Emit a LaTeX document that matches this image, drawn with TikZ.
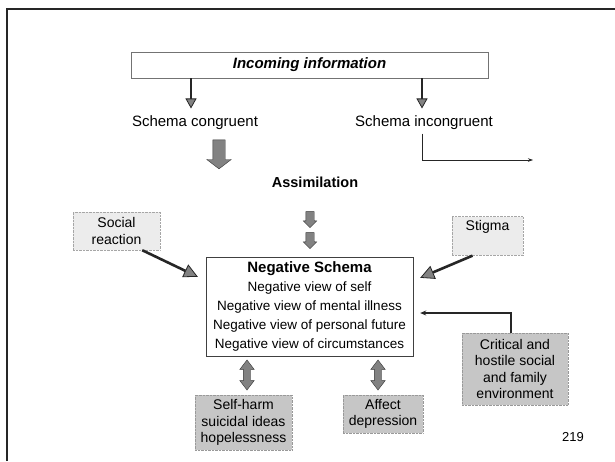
\documentclass[tikz,border=0pt]{standalone}
\usepackage{fontspec}
\setmainfont{Liberation Sans}
\usepackage{tikz}
\usetikzlibrary{arrows.meta, shapes.arrows, positioning}
\definecolor{specklegray}{RGB}{198,198,198}
\definecolor{palegray}{RGB}{236,236,236}
\definecolor{arrowgray}{RGB}{130,130,130}

\begin{document}
\begin{tikzpicture}[
    x=1pt, y=-1pt,
    frameline/.style={line width=1.6pt, color=black!85},
    infobox/.style={rectangle, draw=black!55, fill=white, minimum width=357pt,
                    minimum height=26pt, font=\fontsize{15}{18}\selectfont\bfseries\itshape},
    plaintext/.style={font=\fontsize{15}{18}\selectfont},
    schemabox/.style={rectangle, draw=black!75, fill=white, align=center,
                      minimum width=207pt, minimum height=99pt,
                      font=\fontsize{13.5}{19}\selectfont},
    lightbox/.style={rectangle, draw=black!35, densely dotted, fill=palegray,
                     align=center, font=\fontsize{14}{17}\selectfont},
    speckbox/.style={rectangle, draw=black!40, densely dotted, fill=specklegray,
                     align=center, font=\fontsize{14}{16.5}\selectfont},
    fatarrow/.style={single arrow, draw=black!80, fill=arrowgray, thin,
                     shape border rotate=270, single arrow head indent=0pt},
    bothways/.style={double arrow, draw=black!80, fill=arrowgray, thin,
                     shape border rotate=90, inner sep=3.5pt, double arrow tip angle=75,
                     double arrow head extend=3.5pt, minimum height=30pt},
    inarrow/.style={line width=2.4pt, color=black!85,
                    -{Triangle[length=10pt, width=11pt, fill=arrowgray, line width=0.8pt]}},
    slantarrow/.style={line width=2.6pt, color=black!85,
                       -{Triangle[length=14pt, width=14pt, fill=arrowgray, line width=0.8pt]}},
    critarrow/.style={-{Stealth[length=6pt, width=5pt]}, line width=1.3pt, color=black!85},
    thinarrow/.style={-{Stealth[length=5pt, width=3.5pt]}, line width=0.6pt, color=black!85}
]
\useasboundingbox (0,0) rectangle (615,461);
\draw[frameline] (7,461) -- (7,9) -- (615,9);
\node[infobox] (info) at (309.5,65) {Incoming information};
\node[plaintext] (congr) at (195,123) {Schema congruent};
\node[plaintext] (incongr) at (424,123) {Schema incongruent};
\node[plaintext, font=\fontsize{14.5}{18}\selectfont\bfseries] (assim) at (315,182) {Assimilation};
\node[fatarrow, inner sep=6pt, single arrow head extend=6pt, single arrow tip angle=105,
      minimum height=29pt] (fat) at (219,152) {};
\node[fatarrow, inner sep=4pt, single arrow head extend=2.5pt, minimum height=16pt] (step1) at (310,217.5) {};
\node[fatarrow, inner sep=4pt, single arrow head extend=2.5pt, minimum height=16pt] (step2) at (310,238.5) {};
\node[schemabox] (schema) at (309.5,306.5)
    {{\fontsize{15}{19}\selectfont\bfseries Negative Schema}\\
     Negative view of self\\
     Negative view of mental illness\\
     Negative view of personal future\\
     Negative view of circumstances};
\node[lightbox, minimum width=87pt, minimum height=38pt] (social) at (116.5,231) {Social\\reaction};
\node[lightbox, minimum width=71pt, minimum height=38pt] (stigma) at (487.5,236) {Stigma\\\strut};
\node[speckbox, minimum width=106pt, minimum height=72pt] (critical) at (515,369)
    {Critical and\\hostile social\\and family\\environment};
\node[speckbox, minimum width=97pt, minimum height=55pt] (selfharm) at (243.5,422.5)
    {Self-harm\\suicidal ideas\\hopelessness};
\node[speckbox, minimum width=80pt, minimum height=38pt] (affect) at (383,414) {Affect\\depression};
\node[bothways] (link1) at (247,375) {};
\node[bothways] (link2) at (378,375) {};
\node[font=\fontsize{13}{15}\selectfont] (page) at (573,437) {219};
\coordinate (incout) at (533,160);
\draw[inarrow] ([xshift=-4pt]congr.north |- info.south) -- ([xshift=-4pt, yshift=4pt]congr.north);
\draw[inarrow] ([xshift=-2pt]incongr.north |- info.south) -- ([xshift=-2pt, yshift=4pt]incongr.north);
\draw[thinarrow] ([xshift=-2pt]incongr.south) |- (incout);
\draw[slantarrow] ([xshift=-18pt]social.south east) -- ([xshift=-8pt, yshift=-20pt]schema.north west);
\draw[slantarrow] ([xshift=-15pt]stigma.south) -- ([xshift=7pt, yshift=-21pt]schema.north east);
\draw[critarrow] ([xshift=-4pt]critical.north) |- ([xshift=7pt, yshift=-6.5pt]schema.east);
\end{tikzpicture}
\end{document}
